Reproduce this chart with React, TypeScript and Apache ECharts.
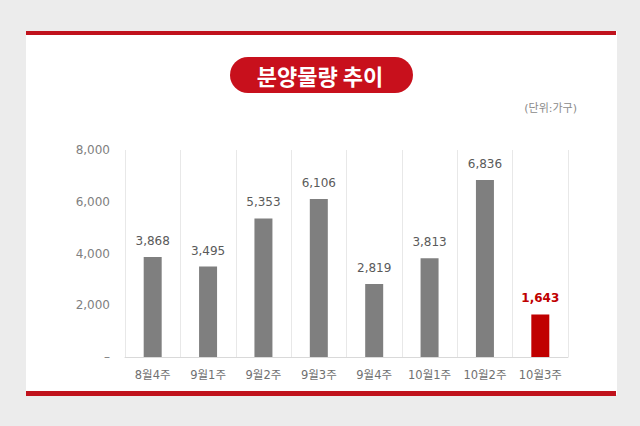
import React, { useEffect, useRef } from "react";
import * as echarts from "echarts";

const categories = ["8월4주", "9월1주", "9월2주", "9월3주", "9월4주", "10월1주", "10월2주", "10월3주"];
const values = [3868, 3495, 5353, 6106, 2819, 3813, 6836, 1643];
const yTicks = [0, 2000, 4000, 6000, 8000];
const title = "분양물량 추이";
const unitText = "(단위:가구)";

const fmt = (v: number) => v.toLocaleString("en-US");
const FONT = "'DejaVu Sans', 'Noto Sans CJK KR', sans-serif";

export default function App() {
  const ref = useRef<HTMLDivElement>(null);
  useEffect(() => {
    if (!ref.current) return;
    const chart = echarts.init(ref.current, null, { renderer: "svg" });
    const last = values.length - 1;
    chart.setOption({
      animation: false,
      backgroundColor: "#ececec",
      textStyle: { fontFamily: FONT },
      graphic: [
        { type: "rect", shape: { x: 26, y: 31, width: 591, height: 364 }, style: { fill: "#ffffff" }, z: -10 },
        { type: "rect", shape: { x: 26, y: 31, width: 590, height: 4 }, style: { fill: "#c0121c" } },
        { type: "rect", shape: { x: 26, y: 391, width: 590, height: 5 }, style: { fill: "#c0121c" } },
        { type: "rect", shape: { x: 230, y: 57, width: 183, height: 36, r: 18 }, style: { fill: "#c8101c" } },
        {
          type: "text", x: 320, y: 75,
          style: { text: title, fill: "#ffffff", font: "bold 22px 'Noto Sans CJK KR'", align: "center", verticalAlign: "middle" },
        },
        {
          type: "text", x: 577, y: 108,
          style: { text: unitText, fill: "#8a8a8a", font: "11px 'DejaVu Sans', 'Noto Sans CJK KR'", align: "right", verticalAlign: "middle" },
        },
      ],
      grid: { left: 125, right: 72, top: 150, bottom: 69 },
      xAxis: {
        type: "category",
        data: categories,
        axisLine: { lineStyle: { color: "#d9d9d9" } },
        axisTick: { show: false },
        splitLine: { show: true, interval: 0, lineStyle: { color: "#e8e8e8" } },
        axisLabel: { color: "#707070", fontSize: 11.5, margin: 12, interval: 0, fontFamily: FONT },
      },
      yAxis: {
        type: "value",
        min: 0,
        max: 8000,
        interval: 2000,
        axisLine: { show: false },
        axisTick: { show: false },
        splitLine: { show: false },
        axisLabel: {
          color: "#808080",
          fontSize: 12,
          margin: 15,
          fontFamily: FONT,
          formatter: (v: number) => (yTicks.includes(v) && v === 0 ? "–" : fmt(v)),
        },
      },
      series: [
        {
          type: "bar",
          barWidth: 18,
          data: values.map((v, i) => ({
            value: v,
            itemStyle: { color: i === last ? "#c00000" : "#7f7f7f" },
            label: i === last ? { color: "#c00000", fontWeight: 600 } : undefined,
          })),
          label: {
            show: true,
            position: "top",
            distance: 10,
            color: "#5a5a5a",
            fontSize: 12,
            fontFamily: FONT,
            formatter: (p: any) => fmt(p.value),
          },
        },
      ],
    });
    return () => chart.dispose();
  }, []);
  return <div ref={ref} style={{ position: "fixed", left: 0, top: 0, width: 640, height: 426 }} />;
}
